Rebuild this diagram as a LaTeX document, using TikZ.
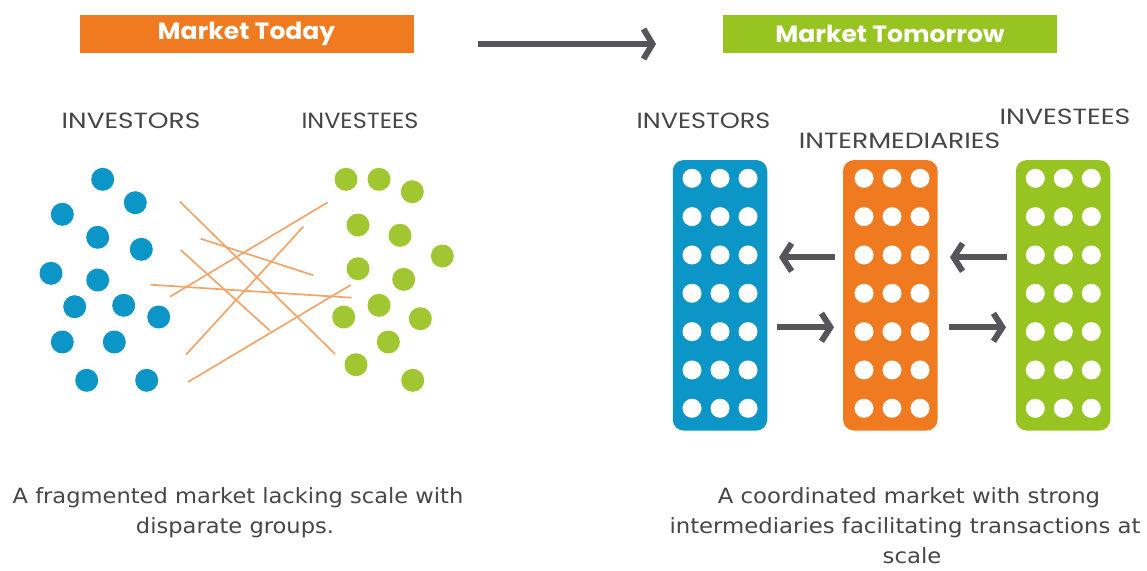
\documentclass[tikz,border=0pt]{standalone}
\usepackage{fontspec}
\usetikzlibrary{arrows.meta}
\newfontfamily\lblfont{Poppins}
\newfontfamily\capfont{DejaVu Sans}
\newfontfamily\hdrfont{Poppins}
\newcommand\sxtext[2]{\scalebox{#1}[1]{#2}}
\definecolor{cblue}{RGB}{12,150,200}
\definecolor{corange}{RGB}{240,122,32}
\definecolor{cgreen}{RGB}{152,196,34}
\definecolor{lgreen}{RGB}{160,198,50}
\definecolor{lineor}{RGB}{240,165,105}
\definecolor{agray}{RGB}{85,85,90}
\definecolor{tgray}{RGB}{70,70,70}
\begin{document}
\begin{tikzpicture}[x=1pt,y=-1pt,
  hdr/.style={fill=#1,minimum width=334pt,minimum height=38pt,inner sep=0pt},
  hdrtext/.style={text=white,font=\hdrfont\bfseries\fontsize{23.5}{25}\selectfont},
  lbl/.style={text=tgray,font=\lblfont\fontsize{22}{24}\selectfont,anchor=base,inner sep=0pt},
  captxt/.style={text=tgray,font=\capfont\fontsize{21}{24}\selectfont,anchor=base,inner sep=0pt},
  bdot/.style={circle,fill=cblue,minimum size=23pt,inner sep=0pt},
  gdot/.style={circle,fill=lgreen,minimum size=23pt,inner sep=0pt},
  wdot/.style={circle,fill=white,minimum size=19pt,inner sep=0pt},
  col/.style={fill=#1,rounded corners=11pt,minimum width=94.5pt,minimum height=270.5pt,inner sep=0pt},
  garrow/.style={draw=agray,line width=6pt,-{Straight Barb[length=9pt,width=28pt]}},
  scline/.style={draw=lineor,line width=1.7pt}
]
\path[use as bounding box] (0,0) rectangle (1147,570);

% headers
\node[hdr=corange] (h1) at (246.5,34) {};
\node[hdrtext] at (h1) {\sxtext{1.065}{Market Today}};
\node[hdr=cgreen] (h2) at (890,34) {};
\node[hdrtext] at (h2) {\sxtext{1.065}{Market Tomorrow}};
\coordinate (ta) at (478,44);
\coordinate (tb) at (656,44);
\draw[draw=agray,line width=6pt,-{Straight Barb[length=9pt,width=30pt]}] (ta) -- (tb);

% left labels
\node[lbl] (l1) at (131,128.3) {\sxtext{1.2}{INVESTORS}};
\node[lbl] (l2) at (360,128.3) {\sxtext{1.09}{INVESTEES}};

% scatter lines
\draw[scline] (180,201.7) -- (335,354);
\draw[scline] (327.7,202.3) -- (170,296.7);
\draw[scline] (200.7,238.7) -- (313.3,275.3);
\draw[scline] (303.3,226.7) -- (186,354.7);
\draw[scline] (180.7,250) -- (270,330.7);
\draw[scline] (150.7,284.7) -- (351.7,297.7);
\draw[scline] (350.7,285) -- (188,382);

% blue dots
\foreach \i/\p in {1/{(102.7,179.3)},2/{(135.3,202.7)},3/{(62.3,214.3)},4/{(97.7,237.3)},
  5/{(141.3,249.3)},6/{(51,273.3)},7/{(97.7,280)},8/{(74.7,306.7)},9/{(123.7,305.3)},
  10/{(158.7,317)},11/{(62.3,342)},12/{(114.3,342)},13/{(86.7,380.3)},14/{(146.7,380.3)}}
  \node[bdot] (b\i) at \p {};
% green dots
\foreach \i/\p in {1/{(346,179.3)},2/{(379,179.3)},3/{(412.3,191.7)},4/{(358,225)},
  5/{(400,235.3)},6/{(442.3,256)},7/{(358,268.7)},8/{(403.7,279.3)},9/{(379,305.3)},
  10/{(343.7,317)},11/{(420.3,318.7)},12/{(388.3,342)},13/{(356,364.7)},14/{(412.7,380.3)}}
  \node[gdot] (g\i) at \p {};

% right labels
\node[lbl] (r1) at (703.5,128.3) {\sxtext{1.16}{INVESTORS}};
\node[lbl] (r2) at (899.5,148.3) {\sxtext{1.21}{INTERMEDIARIES}};
\node[lbl] (r3) at (1065,124.3) {\sxtext{1.22}{INVESTEES}};

% columns
\node[col=cblue] (c1) at (720,295.3) {};
\node[col=corange] (c2) at (890.3,295.3) {};
\node[col=cgreen] (c3) at (1063,295.3) {};
\foreach \cx/\nm in {720/a,892/b,1063.3/c}{
  \foreach \r in {0,...,6}{
    \foreach \k in {-1,0,1}{
      \node[wdot] (d\nm\r\k) at (\cx+\k*28,178.3+\r*38.33) {};
    }
  }
}

% arrows between columns
\coordinate (a1s) at (835,257.3);
\coordinate (a1e) at (779,257.3);
\coordinate (a2s) at (777,327.3);
\coordinate (a2e) at (834,327.3);
\coordinate (a3s) at (1007,257.3);
\coordinate (a3e) at (950,257.3);
\coordinate (a4s) at (949,327.3);
\coordinate (a4e) at (1006,327.3);
\draw[garrow] (a1s) -- (a1e);
\draw[garrow] (a2s) -- (a2e);
\draw[garrow] (a3s) -- (a3e);
\draw[garrow] (a4s) -- (a4e);

% captions
\node[captxt] (k1) at (238,503) {\sxtext{1.075}{A fragmented market lacking scale with}};
\node[captxt] (k2) at (235,533) {\sxtext{1.075}{disparate groups.}};
\node[captxt] (k3) at (909,503) {\sxtext{1.085}{A coordinated market with strong}};
\node[captxt] (k4) at (905,533) {\sxtext{1.085}{intermediaries facilitating transactions at}};
\node[captxt] (k5) at (912,563) {\sxtext{1.085}{scale}};
\end{tikzpicture}
\end{document}
